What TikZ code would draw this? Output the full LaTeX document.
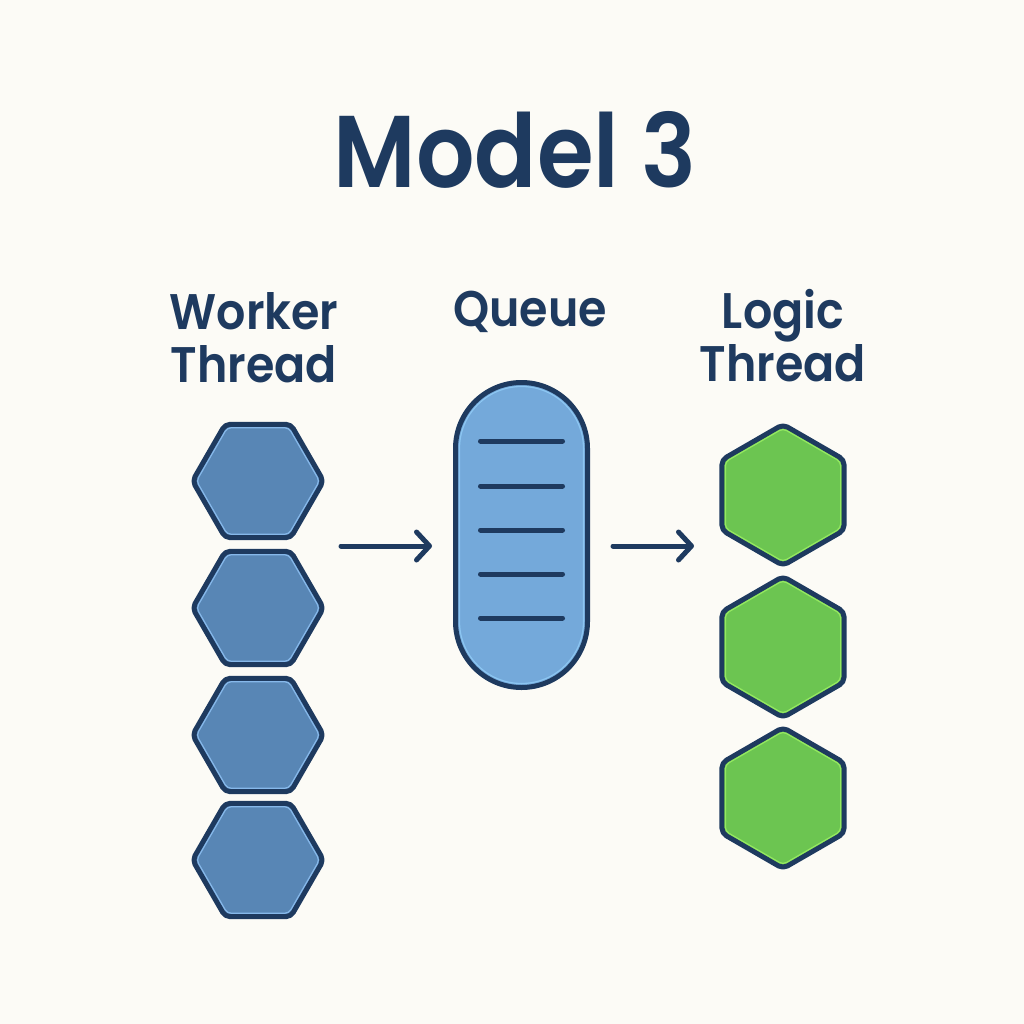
\documentclass[tikz,border=0pt]{standalone}
\usepackage{fontspec}
\setmainfont{Poppins}
\newfontfamily\ptitle{Poppins SemiBold}[FakeStretch=0.9]
\newfontfamily\plabel{Poppins SemiBold}[FakeStretch=0.92]
\usetikzlibrary{shapes.geometric,arrows.meta}
\definecolor{bg}{HTML}{FCFBF6}
\definecolor{navy}{HTML}{1E3A5F}
\definecolor{wblue}{HTML}{5886B5}
\definecolor{wlight}{HTML}{86B8EA}
\definecolor{qblue}{HTML}{74A9DA}
\definecolor{qlight}{HTML}{8CC6F2}
\definecolor{lgreen}{HTML}{6CC551}
\definecolor{glight}{HTML}{94E860}
\begin{document}
\begin{tikzpicture}[x=1pt,y=-1pt,
  hexbase/.style={regular polygon, regular polygon sides=6, inner sep=0pt, outer sep=0pt, draw=navy, line width=5pt, rounded corners=5pt, line join=round},
  workerhex/.style={hexbase, minimum size=131pt, fill=wblue},
  workerhl/.style={regular polygon, regular polygon sides=6, inner sep=0pt, minimum size=123pt, draw=wlight, line width=1.2pt, rounded corners=4pt},
  logichex/.style={hexbase, shape border rotate=30, minimum size=141pt, fill=lgreen},
  logichl/.style={regular polygon, regular polygon sides=6, shape border rotate=30, inner sep=0pt, minimum size=133pt, draw=glight, line width=1.2pt, rounded corners=4pt},
  queuebox/.style={rectangle, draw=navy, line width=5pt, fill=qblue, minimum width=132pt, minimum height=305pt, rounded corners=66pt, inner sep=0pt},
  queuehl/.style={rectangle, draw=qlight, line width=1.2pt, minimum width=124pt, minimum height=297pt, rounded corners=62pt, inner sep=0pt},
  slot/.style={draw=navy, line width=5pt, line cap=round},
  arr/.style={draw=navy, line width=5pt, line cap=round, line join=round, -{Straight Barb[length=13pt,width=28pt,line cap=round,line join=round]}},
  label/.style={text=navy, font=\plabel\fontsize{50}{53}\selectfont, align=center, inner sep=0pt},
  title/.style={text=navy, font=\ptitle\fontsize{102}{110}\selectfont, inner sep=0pt}
]
\fill[bg] (0,0) rectangle (1024,1024);
\useasboundingbox (0,0) rectangle (1024,1024);

\node[title, anchor=base] (title) at (515,188) {Model 3};

\node[label] (lw) at (254,338) {Worker\\Thread};
\node[label] (lq) at (530,312) {Queue};
\node[label] (ll) at (783,336) {Logic\\Thread};

% worker hexagons
\foreach \i/\y in {1/481,2/608,3/735,4/860}{
  \node[workerhex] (w\i) at (258,\y) {};
  \node[workerhl] (w\i hl) at (w\i.center) {};
}

% queue
\node[queuebox] (q) at (521.5,535) {};
\node[queuehl] (qhl) at (q.center) {};
\foreach \j/\dy in {1/-94,2/-49,3/-5,4/39,5/83}{
  \coordinate (s\j a) at ([shift={(-41,\dy)}]q.center);
  \coordinate (s\j b) at ([shift={(41,\dy)}]q.center);
  \draw[slot] (s\j a) -- (s\j b);
}

% logic hexagons
\foreach \i/\y in {1/495,2/647,3/798}{
  \node[logichex] (g\i) at (783,\y) {};
  \node[logichl] (g\i hl) at (g\i.center) {};
}

% arrows
\coordinate (a1s) at (341,546);
\coordinate (a1e) at (432,546);
\coordinate (a2s) at (613,546);
\coordinate (a2e) at (694,546);
\draw[arr] (a1s) -- (a1e);
\draw[arr] (a2s) -- (a2e);
\end{tikzpicture}
\end{document}
